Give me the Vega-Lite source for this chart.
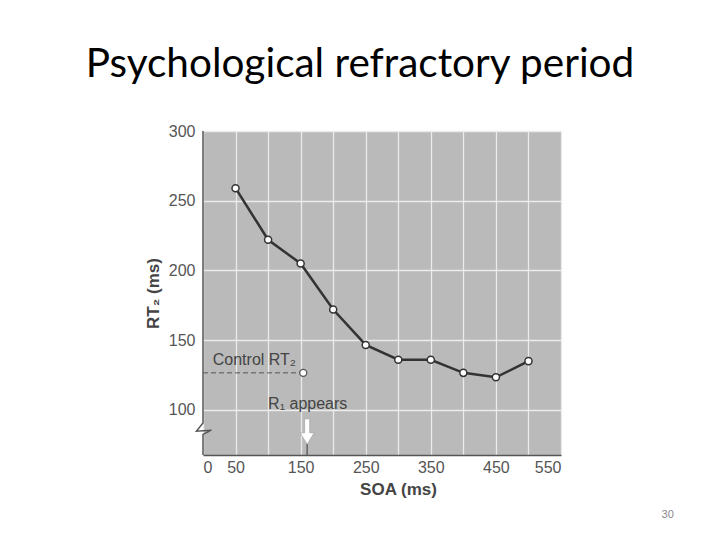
{
  "$schema": "https://vega.github.io/schema/vega-lite/v6.json",
  "width": 358,
  "height": 324,
  "autosize": "none",
  "padding": {"left": 203, "top": 131, "right": 159, "bottom": 85},
  "background": "white",
  "title": {
    "text": "Psychological refractory period",
    "font": "Lato",
    "fontSize": 40.5,
    "fontWeight": "normal",
    "color": "#000000",
    "anchor": "middle",
    "frame": "group",
    "dx": -22,
    "offset": 38
  },
  "config": {
    "view": {"fill": "#bababa", "stroke": null},
    "axis": {
      "labelFont": "Liberation Sans",
      "labelFontSize": 16,
      "labelColor": "#555555",
      "labelOverlap": false,
      "labelBound": false,
      "titleFont": "Liberation Sans",
      "titleFontWeight": "bold",
      "titleColor": "#444444",
      "titleFontSize": 17,
      "ticks": false,
      "gridColor": "#ebebeb",
      "gridWidth": 1.3,
      "gridOpacity": 1,
      "domainColor": "#555555",
      "domainWidth": 1.5
    }
  },
  "datasets": {
    "rt2": [
      {"soa": 50, "rt": 259},
      {"soa": 100, "rt": 222},
      {"soa": 150, "rt": 205},
      {"soa": 200, "rt": 172},
      {"soa": 250, "rt": 146.6},
      {"soa": 300, "rt": 136},
      {"soa": 350, "rt": 136},
      {"soa": 400, "rt": 126.6},
      {"soa": 450, "rt": 123.4},
      {"soa": 500, "rt": 135}
    ],
    "control": [{"soa": 0, "soa2": 154, "rt": 126.6}],
    "controlpt": [{"soa": 154, "rt": 126.6}],
    "labels": [
      {"soa": 15, "rt": 132.3, "label": "Control RT₂"},
      {"soa": 100, "rt": 100.8, "label": "R₁ appears"}
    ],
    "axisline": [
      {"soa": 0, "rt": 300, "o": 1},
      {"soa": 0, "rt": 90.7, "o": 2},
      {"soa": -10, "rt": 84.8, "o": 3},
      {"soa": 13, "rt": 85.5, "o": 4},
      {"soa": 0, "rt": 82.5, "o": 5},
      {"soa": 0, "rt": 67.7, "o": 6}
    ],
    "tick": [{"soa": 160, "rt": 75.5, "rt2": 67.7}],
    "arrow": [{"soa": 160, "rt": 84.5}],
    "page": [{"soa": 714, "rt": 24.5, "label": "30"}]
  },
  "encoding": {
    "x": {
      "field": "soa",
      "type": "quantitative",
      "scale": {"domain": [0, 550], "nice": false, "zero": false},
      "axis": {
        "values": [0, 50, 100, 150, 200, 250, 300, 350, 400, 450, 500, 550],
        "labelExpr": "datum.value == 0 || datum.value % 100 == 50 ? datum.label : ''",
        "labelPadding": 4,
        "title": "SOA (ms)",
        "titleX": 195,
        "titlePadding": 6
      }
    },
    "y": {
      "field": "rt",
      "type": "quantitative",
      "scale": {"domain": [67.7, 300], "nice": false, "zero": false},
      "axis": {
        "values": [100, 150, 200, 250, 300],
        "domain": false,
        "labelPadding": 8,
        "title": "RT₂ (ms)",
        "titlePadding": 6
      }
    }
  },
  "layer": [
    {
      "data": {"name": "rt2"},
      "mark": {"type": "line", "color": "#333333", "strokeWidth": 2.5}
    },
    {
      "data": {"name": "rt2"},
      "mark": {"type": "point", "filled": true, "fill": "white", "stroke": "#333333", "strokeWidth": 1.5, "size": 50, "opacity": 1}
    },
    {
      "data": {"name": "control"},
      "mark": {"type": "rule", "color": "#555555", "strokeWidth": 1, "strokeDash": [5, 3]},
      "encoding": {
        "x2": {"field": "soa2"}
      }
    },
    {
      "data": {"name": "controlpt"},
      "mark": {"type": "point", "filled": true, "fill": "white", "stroke": "#555555", "strokeWidth": 1.3, "size": 50, "opacity": 1}
    },
    {
      "data": {"name": "labels"},
      "mark": {"type": "text", "font": "Liberation Sans", "fontSize": 16, "color": "#444444", "align": "left", "baseline": "alphabetic"},
      "encoding": {
        "text": {"field": "label"}
      }
    },
    {
      "data": {"name": "axisline"},
      "mark": {"type": "line", "color": "#555555", "strokeWidth": 1.5},
      "encoding": {
        "order": {"field": "o"}
      }
    },
    {
      "data": {"name": "tick"},
      "mark": {"type": "rule", "color": "#555555", "strokeWidth": 1.3},
      "encoding": {
        "y2": {"field": "rt2"}
      }
    },
    {
      "data": {"name": "arrow"},
      "mark": {
        "type": "point",
        "shape": "M-0.2,-1 L0.2,-1 L0.2,0.1 L0.55,0.1 L0,1 L-0.55,0.1 L-0.2,0.1 Z",
        "filled": true,
        "fill": "white",
        "stroke": "#9a9a9a",
        "strokeWidth": 0.6,
        "size": 650,
        "opacity": 1
      }
    },
    {
      "data": {"name": "page"},
      "mark": {"type": "text", "font": "Liberation Sans", "fontSize": 11, "color": "#8a8a8a", "align": "center", "baseline": "middle"},
      "encoding": {
        "text": {"field": "label"}
      }
    }
  ]
}
